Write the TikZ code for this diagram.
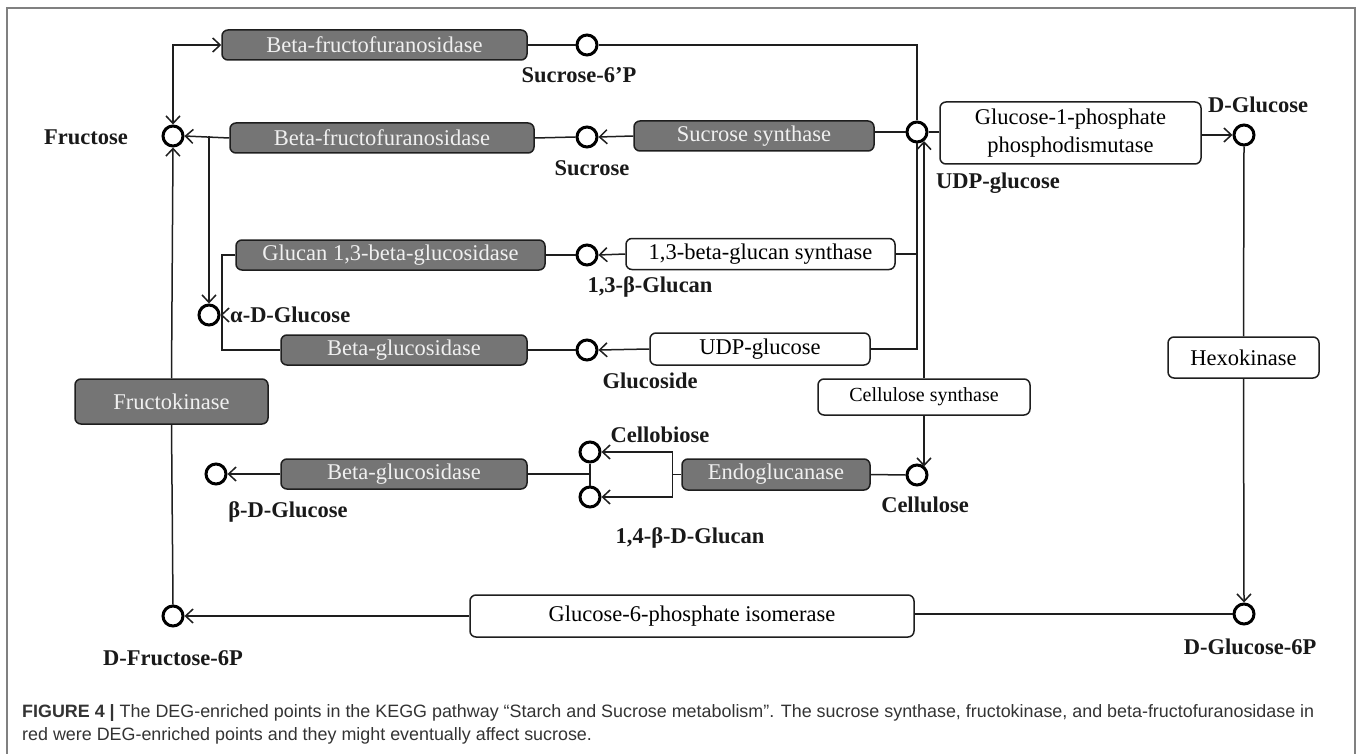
\documentclass[tikz,border=0pt]{standalone}
\usepackage{fontspec}
\setmainfont{Liberation Serif}
\newfontfamily\capfont{Liberation Sans}
\usetikzlibrary{arrows.meta,calc}
\definecolor{dfill}{HTML}{757575}
\definecolor{lnc}{HTML}{1E1E1E}
\definecolor{capc}{HTML}{333333}
\definecolor{framec}{HTML}{808080}
\begin{document}
\begin{tikzpicture}[x=1pt,y=-1pt,
  >={Straight Barb[length=7.5pt,width=14pt]},
  box/.style={rounded corners=6pt, line width=1.5pt, inner sep=0pt, minimum height=30pt, align=center,
    font=\fontsize{22.5}{28}\selectfont},
  dbox/.style={box, draw=lnc, fill=dfill, text=white!94!black},
  wbox/.style={box, draw=lnc, fill=white, text=black},
  met/.style={circle, draw=black, fill=white, line width=3pt, minimum size=20pt, inner sep=0pt},
  lab/.style={font=\bfseries\fontsize{22.5}{27}\selectfont, inner sep=0pt, text=black!90},
  con/.style={line width=1.5pt, draw=lnc},
]
\useasboundingbox (0,0) rectangle (1357,754);
% frame
\draw[draw=framec, line width=1.6pt] (7,780) -- (7,8) -- (1355,8) -- (1355,780);

% enzyme boxes
\node[dbox, minimum width=305pt] (bf1) at (374.5,45) {Beta-fructofuranosidase};
\node[dbox, minimum width=304pt] (bf2) at (382,138) {Beta-fructofuranosidase};
\node[dbox, minimum width=240pt] (ss) at (754,136) {Sucrose synthase};
\node[wbox, minimum width=261pt, minimum height=62pt] (g1p) at (1070.5,133) {Glucose-1-phosphate\\phosphodismutase};
\node[dbox, minimum width=309pt] (glc13) at (390.5,255) {Glucan 1,3-beta-glucosidase};
\node[wbox, minimum width=269pt, minimum height=31pt] (bgs13) at (760.5,254) {1,3-beta-glucan synthase};
\node[dbox, minimum width=246pt] (bgl1) at (404,350) {Beta-glucosidase};
\node[wbox, minimum width=220pt, minimum height=32pt] (udpb) at (760,349) {UDP-glucose};
\node[wbox, minimum width=151pt, minimum height=41pt] (hexo) at (1243.5,357.5) {Hexokinase};
\node[dbox, minimum width=193pt, minimum height=45pt] (fk) at (171.5,401.5) {Fructokinase};
\node[wbox, minimum width=212pt, minimum height=36pt, font=\fontsize{20}{24}\selectfont] (cs) at (924,397) {Cellulose synthase};
\node[dbox, minimum width=246pt] (bgl2) at (404,474) {Beta-glucosidase};
\node[dbox, minimum width=188pt, minimum height=31pt] (endo) at (776,474.5) {Endoglucanase};
\node[wbox, minimum width=444pt, minimum height=42pt] (g6pi) at (692,616) {Glucose-6-phosphate isomerase};

% metabolites
\node[met] (s6p) at (587,45) {};
\node[met] (fru) at (173,136) {};
\node[met] (suc) at (587,137) {};
\node[met] (udp) at (917,132) {};
\node[met] (dglc) at (1244,135) {};
\node[met] (b13g) at (587,255) {};
\node[met] (adg) at (209,315) {};
\node[met] (glcs) at (587,350) {};
\node[met] (cel) at (917,475) {};
\node[met] (bdg) at (216,474) {};
\node[met] (cb) at (590,452) {};
\node[met] (g14) at (590,497) {};
\node[met] (f6p) at (173,616) {};
\node[met] (g6p) at (1244,614) {};

% labels
\node[lab] (l-s6p) at (579,75) {Sucrose-6’P};
\node[lab] (l-fru) at (86,137) {Fructose};
\node[lab] (l-suc) at (592,168) {Sucrose};
\node[lab] (l-udp) at (998,183) {UDP-glucose};
\node[lab] (l-dglc) at (1258,105) {D-Glucose};
\node[lab] (l-b13g) at (650,287) {1,3-β-Glucan};
\node[lab, anchor=west] (l-adg) at (230,315) {α-D-Glucose};
\node[lab] (l-glcs) at (650,381) {Glucoside};
\node[lab] (l-cb) at (660,435) {Cellobiose};
\node[lab] (l-cel) at (925,505) {Cellulose};
\node[lab] (l-bdg) at (288,512) {β-D-Glucose};
\node[lab] (l-g14) at (690,538) {1,4-β-D-Glucan};
\node[lab] (l-f6p) at (173,658) {D-Fructose-6P};
\node[lab] (l-g6p) at (1250,647) {D-Glucose-6P};

% connectors
\draw[con,<->] (fru.north) |- (bf1.west);
\draw[con] (bf1.east) -- (s6p.west);
\draw[con] (s6p.east) -| (udp.north);
\draw[con,->] (bf2.west) -- (fru.east);
\coordinate (br1) at (adg.north |- fru.east);
\draw[con,->] (br1) -- (adg.north);
\draw[con] (bf2.east) -- (suc.west);
\draw[con,->] (ss.west) -- (suc.east);
\draw[con] (ss.east |- udp.west) -- (udp.west);
\draw[con] (udp.east) -- (g1p.west |- udp.east);
\draw[con,->] (g1p.east |- dglc.west) -- (dglc.west);
\draw[con] (dglc.south) -- (hexo.north);
\draw[con,->] (hexo.south) -- (g6p.north);
\draw[con] (g6pi.east |- g6p.west) -- (g6p.west);
\draw[con,->] (g6pi.west) -- (f6p.east);
\draw[con] (f6p.north) -- (fk.south);
\draw[con,->] (fk.north) -- (fru.south);
\draw[con] (glc13.east) -- (b13g.west);
\draw[con,->] (bgs13.west) -- (b13g.east);
\draw[con] (udp.south) |- (udpb.east);
\draw[con] (bgs13.east) -- (bgs13.east -| udp.south);
\draw[con] (bgl1.east) -- (glcs.west);
\draw[con,->] (udpb.west) -- (glcs.east);
\coordinate (vx) at (222,255);
\draw[con] (glc13.west) -- (vx) |- (bgl1.west);
\coordinate (adgr) at (vx |- adg.east);
\draw[con,->] (adgr) -- (adg.east);
\draw[con,->] (cs.north) -- (cs.north |- {$(udp.center)+(0,9)$});
\draw[con,->] (cs.south) -- (cs.south |- {$(cel.center)+(0,-8.5)$});
\draw[con] (endo.east) -- (cel.west);
\coordinate (bk) at ($(endo.west)+(-9,0)$);
\draw[con] (endo.west) -- (bk);
\draw[con,->] (bk) |- (cb.east);
\draw[con,->] (bk) |- (g14.east);
\draw[con] (cb.south) -- (g14.north);
\draw[con] (bgl2.east) -- (bgl2.east -| cb.south);
\draw[con,->] (bgl2.west) -- (bdg.east);

% caption
\node[anchor=base west, inner sep=0pt, text=capc, font=\capfont\fontsize{17.9}{23}\selectfont] (cap1) at (22,717)
  {\textbf{FIGURE 4 |} The DEG-enriched points in the KEGG pathway “Starch and Sucrose metabolism”. The sucrose synthase, fructokinase, and beta-fructofuranosidase in};
\node[anchor=base west, inner sep=0pt, text=capc, font=\capfont\fontsize{17.9}{23}\selectfont] (cap2) at (22,740)
  {red were DEG-enriched points and they might eventually affect sucrose.};
\end{tikzpicture}
\end{document}
